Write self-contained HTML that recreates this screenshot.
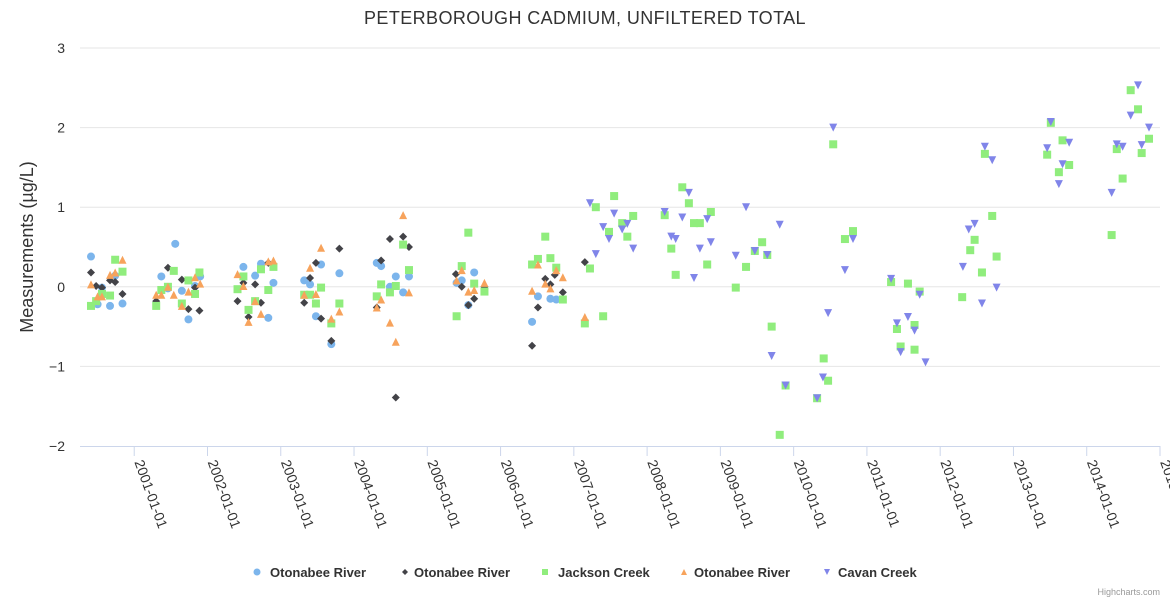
<!DOCTYPE html>
<html><head><meta charset="utf-8">
<style>
html,body{margin:0;padding:0;background:#fff;}
svg{display:block;font-family:"Liberation Sans","DejaVu Sans",sans-serif;}
</style></head>
<body>
<svg id="chart" width="1170" height="600" viewBox="0 0 1170 600">
<text x="585" y="24" text-anchor="middle" font-size="18" fill="#333" letter-spacing="0.4">PETERBOROUGH CADMIUM, UNFILTERED TOTAL</text>
<text transform="translate(33,247) rotate(-90)" text-anchor="middle" font-size="18" fill="#333">Measurements (µg/L)</text>
<g id="grid"></g><g id="xaxis"></g><g id="marks"></g><g id="legend"></g>
<text x="1160" y="595" text-anchor="end" font-size="9" fill="#999">Highcharts.com</text>
</svg>
<script>
const yTicks=[-2,-1,0,1,2,3];
const xTickYears=[2001,2002,2003,2004,2005,2006,2007,2008,2009,2010,2011,2012,2013,2014,2015];
const seriesNames=["Otonabee River","Otonabee River","Jackson Creek","Otonabee River","Cavan Creek"];
const blueX=[2000.41,2000.56,2000.50,2000.67,2000.84,2000.74,2001.56,2001.37,2001.65,2001.74,2001.46,2001.90,2001.83,2002.49,2002.65,2002.73,2002.90,2002.83,2003.32,2003.40,2003.55,2003.80,2003.48,2003.69,2004.31,2004.37,2004.57,2004.75,2004.49,2004.67,2005.47,2005.40,2005.64,2005.56,2006.51,2006.68,2006.76,2006.43];
const blueY=[0.38,-0.01,-0.22,-0.24,-0.21,0.14,0.54,0.13,-0.05,-0.41,-0.02,0.13,0.01,0.25,0.14,0.29,0.05,-0.39,0.08,0.03,0.28,0.17,-0.37,-0.72,0.30,0.26,0.13,0.13,0.00,-0.07,0.08,0.05,0.18,-0.23,-0.12,-0.15,-0.16,-0.44];
const blackX=[2000.41,2000.48,2000.56,2000.67,2000.74,2000.84,2001.30,2001.46,2001.65,2001.83,2001.74,2001.89,2002.49,2002.65,2002.41,2002.73,2002.56,2002.83,2003.32,2003.40,2003.48,2003.80,2003.55,2003.69,2004.37,2004.49,2004.67,2004.75,2004.31,2004.57,2005.39,2005.47,2005.64,2005.56,2005.78,2006.43,2006.51,2006.61,2006.68,2006.74,2006.85,2007.15];
const blackY=[0.18,0.01,-0.01,0.08,0.06,-0.09,-0.18,0.24,0.09,-0.01,-0.28,-0.30,0.05,0.03,-0.18,-0.20,-0.38,0.30,-0.20,0.11,0.30,0.48,-0.40,-0.68,0.33,0.60,0.63,0.50,-0.26,-1.39,0.16,0.00,-0.15,-0.23,0.00,-0.74,-0.26,0.10,0.03,0.15,-0.07,0.31];
const greenX=[2000.41,2000.48,2000.56,2000.67,2000.74,2000.84,2001.30,2001.37,2001.46,2001.54,2001.74,2001.65,2001.83,2001.89,2002.41,2002.49,2002.56,2002.65,2002.73,2002.83,2002.90,2003.32,2003.40,2003.48,2003.55,2003.69,2003.80,2004.31,2004.37,2004.49,2004.57,2004.67,2004.75,2005.56,2005.47,2005.64,2005.78,2005.40,2006.61,2006.51,2006.43,2006.68,2006.76,2006.85,2007.15,2007.40,2007.22,2007.30,2007.55,2007.48,2007.66,2007.81,2007.73,2008.24,2008.33,2008.39,2008.48,2008.57,2008.64,2008.72,2008.87,2008.82,2009.21,2009.35,2009.47,2009.57,2009.64,2009.70,2009.81,2009.89,2010.32,2010.41,2010.47,2010.54,2010.70,2010.81,2011.33,2011.56,2011.72,2011.41,2011.65,2011.46,2011.65,2012.30,2012.41,2012.47,2012.57,2012.61,2012.71,2012.77,2013.51,2013.46,2013.67,2013.62,2013.76,2014.34,2014.41,2014.49,2014.60,2014.70,2014.75,2014.85];
const greenY=[-0.24,-0.18,-0.09,-0.11,0.34,0.19,-0.24,-0.04,0.00,0.20,0.08,-0.21,-0.09,0.18,-0.03,0.13,-0.29,-0.18,0.22,-0.04,0.25,-0.10,-0.10,-0.21,-0.01,-0.46,-0.21,-0.12,0.03,-0.07,0.01,0.53,0.21,0.68,0.26,0.04,-0.06,-0.37,0.63,0.35,0.28,0.36,0.24,-0.16,-0.46,-0.37,0.23,1.00,1.14,0.69,0.80,0.89,0.63,0.90,0.48,0.15,1.25,1.05,0.80,0.80,0.94,0.28,-0.01,0.25,0.45,0.56,0.40,-0.50,-1.86,-1.24,-1.40,-0.90,-1.18,1.79,0.60,0.70,0.06,0.04,-0.06,-0.53,-0.48,-0.75,-0.79,-0.13,0.46,0.59,0.18,1.67,0.89,0.38,2.06,1.66,1.84,1.44,1.53,0.65,1.73,1.36,2.47,2.23,1.68,1.86];
const orangeX=[2000.41,2000.50,2000.56,2000.67,2000.74,2000.84,2001.30,2001.37,2001.46,2001.54,2001.65,2001.74,2001.83,2001.90,2002.41,2002.49,2002.56,2002.65,2002.73,2002.83,2002.90,2003.32,2003.40,2003.48,2003.55,2003.69,2003.80,2004.31,2004.37,2004.49,2004.57,2004.75,2004.67,2005.40,2005.47,2005.56,2005.64,2005.78,2006.43,2006.51,2006.61,2006.68,2006.76,2006.85,2007.15];
const orangeY=[0.03,-0.12,-0.12,0.15,0.18,0.34,-0.10,-0.10,0.00,-0.10,-0.24,-0.06,0.12,0.04,0.16,0.01,-0.44,-0.18,-0.34,0.32,0.33,-0.10,0.24,-0.09,0.49,-0.40,-0.31,-0.26,-0.16,-0.45,-0.69,-0.07,0.90,0.08,0.21,-0.06,-0.04,0.05,-0.05,0.28,0.04,-0.02,0.21,0.12,-0.38];
const purpleX=[2007.22,2007.30,2007.40,2007.48,2007.55,2007.66,2007.73,2007.81,2008.24,2008.33,2008.39,2008.48,2008.57,2008.64,2008.72,2008.82,2008.87,2009.21,2009.35,2009.47,2009.64,2009.70,2009.81,2009.89,2010.32,2010.40,2010.47,2010.54,2010.70,2010.81,2011.33,2011.41,2011.46,2011.56,2011.65,2011.72,2011.80,2012.31,2012.39,2012.47,2012.57,2012.61,2012.71,2012.77,2013.51,2013.46,2013.62,2013.67,2013.76,2014.34,2014.41,2014.49,2014.60,2014.70,2014.75,2014.85];
const purpleY=[1.05,0.41,0.75,0.60,0.92,0.72,0.79,0.48,0.94,0.63,0.60,0.87,1.18,0.11,0.48,0.85,0.56,0.39,1.00,0.45,0.40,-0.87,0.78,-1.24,-1.40,-1.14,-0.33,2.00,0.21,0.60,0.10,-0.46,-0.82,-0.38,-0.55,-0.10,-0.95,0.25,0.72,0.79,-0.21,1.76,1.59,-0.01,2.07,1.74,1.29,1.54,1.81,1.18,1.79,1.76,2.15,2.53,1.78,2.00];

const L=80,R=1160,T=48,B=446;
const xMin=2000.26,xMax=2015.0,yMin=-2,yMax=3;
const sx=v=>L+(v-xMin)/(xMax-xMin)*(R-L);
const sy=v=>B-(v-yMin)/(yMax-yMin)*(B-T);
const NS="http://www.w3.org/2000/svg";
function mk(tag,attrs,parent){const e=document.createElementNS(NS,tag);for(const k in attrs)e.setAttribute(k,attrs[k]);parent.appendChild(e);return e;}
const grid=document.getElementById('grid'),xa=document.getElementById('xaxis'),marks=document.getElementById('marks'),leg=document.getElementById('legend');
yTicks.forEach(t=>{
  if(t!==yMin){const g=mk('line',{x1:L,x2:R,y1:sy(t),y2:sy(t),stroke:'#e6e6e6','stroke-width':1},grid);
  
  }
  const lb=mk('text',{x:L-15,y:sy(t)+5,'text-anchor':'end','font-size':14,fill:'#333'},grid);
  lb.textContent=(t<0?'\u2212'+(-t):String(t));
  
  
});
const ax=mk('line',{x1:L,x2:R,y1:B+0.5,y2:B+0.5,stroke:'#ccd6eb','stroke-width':1},xa);


xTickYears.forEach(y=>{
  const x=sx(y);
  const tk=mk('line',{x1:x,x2:x,y1:B,y2:B+10,stroke:'#ccd6eb'},xa);
  
  
  const lb=mk('text',{x:x,y:B+16,'font-size':14,fill:'#333',transform:`rotate(70 ${x} ${B+16})`},xa);
  lb.textContent=y+'-01-01';
  
  
});
function marker(kind,x,y,col,parent,r){
  r=r||4;let e;
  if(kind==='circle')e=mk('circle',{cx:x,cy:y,r:r,fill:col},parent);
  else if(kind==='diamond')e=mk('path',{d:`M${x},${y-r}L${x+r},${y}L${x},${y+r}L${x-r},${y}Z`,fill:col},parent);
  else if(kind==='square')e=mk('rect',{x:x-r,y:y-r,width:2*r,height:2*r,fill:col},parent);
  else if(kind==='tri')e=mk('path',{d:`M${x},${y-r}L${x+r},${y+r}L${x-r},${y+r}Z`,fill:col},parent);
  else e=mk('path',{d:`M${x-r},${y-r}L${x+r},${y-r}L${x},${y+r}Z`,fill:col},parent);
  return e;
}
const series=[
 {xs:blueX,ys:blueY,kind:'circle',col:'#7cb5ec',slug:'otonabee-river-1'},
 {xs:blackX,ys:blackY,kind:'diamond',col:'#434348',slug:'otonabee-river-2'},
 {xs:greenX,ys:greenY,kind:'square',col:'#90ed7d',slug:'jackson-creek'},
 {xs:orangeX,ys:orangeY,kind:'tri',col:'#f7a35c',slug:'otonabee-river-3'},
 {xs:purpleX,ys:purpleY,kind:'tridown',col:'#8085e9',slug:'cavan-creek'}];
series.forEach(s=>{
  const g=mk('g',{},marks);
  
  
  s.xs.forEach((xv,i)=>{
    const m=marker(s.kind,sx(xv),sy(s.ys[i]),s.col,g);
    
    
  });
});
const legX=[257,405,545,684,827],txtX=[270,414,558,694,838];
series.forEach((s,i)=>{
  const g=mk('g',{},leg);
  
  
  marker(s.kind,legX[i],572,s.col,g,s.kind==='circle'?3.5:3);
  const t=mk('text',{x:txtX[i],y:577,'font-size':13,'font-weight':'bold',fill:'#333'},g);
  t.textContent=seriesNames[i];
});
</script>
</body></html>
